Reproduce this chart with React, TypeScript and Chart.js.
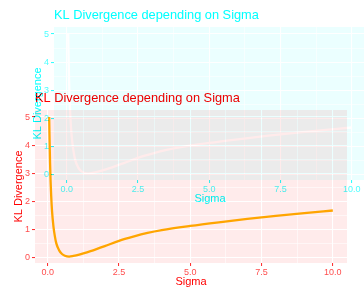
import React, { useEffect, useRef } from 'react';
import { Chart, registerables } from 'chart.js';

Chart.register(...registerables);

// ---- data ----
const sigma = [0.05, 0.06, 0.07, 0.08, 0.1, 0.12, 0.15, 0.2, 0.25, 0.3, 0.4, 0.5, 0.6, 0.75, 0.9, 1.0, 1.25, 1.5, 2.0, 2.5, 3.0, 3.5, 4.0, 5.0, 6.0, 7.0, 8.0, 9.0, 10.0];
const klDivergence = [5.0, 4.4, 3.9, 3.4, 2.7, 2.2, 1.65, 1.1, 0.75, 0.5, 0.25, 0.12, 0.06, 0.03, 0.05, 0.07, 0.14, 0.22, 0.4, 0.59, 0.74, 0.87, 0.97, 1.12, 1.25, 1.37, 1.48, 1.58, 1.67];

const xMajorTicks = [0, 2.5, 5, 7.5, 10];
const xTickLabels = ['0.0', '2.5', '5.0', '7.5', '10.0'];
const xMinorTicks = [1.25, 3.75, 6.25, 8.75];
const yMajorTicks = [0, 1, 2, 3, 4, 5];
const yTickLabels = ['0', '1', '2', '3', '4', '5'];
const yMinorTicks = [0.5, 1.5, 2.5, 3.5, 4.5];

const chartTitle = 'KL Divergence depending on Sigma';
const xTitle = 'Sigma';
const yTitle = 'KL Divergence';

const FONT = "'Liberation Sans', Arial, sans-serif";

type Tint = { panel: string; text: string; tickLabel: string; tickMark: string; line: string };

// main copy keeps green/blue channels, shifted copy keeps red channel (multiplied together)
const TINT_MAIN: Tint = {
  panel: 'rgb(255,235,235)',
  text: 'rgb(255,0,0)',
  tickLabel: 'rgb(255,77,77)',
  tickMark: 'rgb(255,51,51)',
  line: 'rgb(255,165,0)',
};
const TINT_SHIFT: Tint = {
  panel: 'rgb(235,255,255)',
  text: 'rgb(0,255,255)',
  tickLabel: 'rgb(77,255,255)',
  tickMark: 'rgb(51,255,255)',
  line: 'rgb(255,255,255)',
};

const isIn = (v: number, arr: number[]) => arr.some((m) => Math.abs(m - v) < 1e-9);

function makeConfig(t: Tint): any {
  const panelBg = {
    id: 'panelBg',
    beforeDraw(chart: any) {
      const { ctx, chartArea } = chart;
      if (!chartArea) return;
      ctx.save();
      ctx.fillStyle = t.panel;
      ctx.fillRect(chartArea.left, chartArea.top, chartArea.right - chartArea.left, chartArea.bottom - chartArea.top);
      ctx.restore();
    },
  };

  const panelTitle = {
    id: 'panelTitle',
    afterDraw(chart: any) {
      const { ctx, chartArea } = chart;
      if (!chartArea) return;
      ctx.save();
      ctx.fillStyle = t.text;
      ctx.font = `12.8px ${FONT}`;
      ctx.textAlign = 'left';
      ctx.textBaseline = 'middle';
      ctx.fillText(chartTitle, chartArea.left, 15);
      ctx.restore();
    },
  };

  const gridFor = (majors: number[]) => ({
    color: '#ffffff',
    lineWidth: (c: any) => (c.tick && isIn(c.tick.value, majors) ? 1.07 : 0.55),
    tickColor: (c: any) => (c.tick && isIn(c.tick.value, majors) ? t.tickMark : 'rgba(0,0,0,0)'),
    tickLength: 3,
    tickWidth: 1.07,
    drawOnChartArea: true,
    drawTicks: true,
  });

  return {
    type: 'line',
    data: {
      datasets: [
        {
          data: sigma.map((s, i) => ({ x: s, y: klDivergence[i] })),
          borderColor: t.line,
          borderWidth: 2.3,
          pointRadius: 0,
          fill: false,
          cubicInterpolationMode: 'monotone',
        },
      ],
    },
    options: {
      responsive: false,
      animation: false,
      devicePixelRatio: 1,
      layout: { padding: { left: 10, right: 17, top: 27, bottom: 0 } },
      plugins: {
        legend: { display: false },
        tooltip: { enabled: false },
        title: { display: false },
      },
      scales: {
        x: {
          type: 'linear',
          min: -0.4475,
          max: 10.4975,
          afterBuildTicks: (s: any) => {
            s.ticks = [...xMajorTicks, ...xMinorTicks].sort((a, b) => a - b).map((v) => ({ value: v }));
          },
          afterFit: (s: any) => {
            s.height = 26;
          },
          border: { display: false },
          grid: gridFor(xMajorTicks),
          ticks: {
            color: t.tickLabel,
            font: { family: FONT, size: 9 },
            padding: 1,
            autoSkip: false,
            maxRotation: 0,
            callback: (v: number) => {
              const i = xMajorTicks.findIndex((m) => Math.abs(m - v) < 1e-9);
              return i >= 0 ? xTickLabels[i] : '';
            },
          },
          title: {
            display: true,
            text: xTitle,
            color: t.text,
            font: { family: FONT, size: 11 },
            padding: { top: 0, bottom: 0 },
          },
        },
        y: {
          type: 'linear',
          min: -0.2,
          max: 5.25,
          afterBuildTicks: (s: any) => {
            s.ticks = [...yMajorTicks, ...yMinorTicks].sort((a, b) => a - b).map((v) => ({ value: v }));
          },
          afterFit: (s: any) => {
            s.width = 25;
          },
          border: { display: false },
          grid: gridFor(yMajorTicks),
          ticks: {
            color: t.tickLabel,
            font: { family: FONT, size: 9 },
            padding: 2,
            autoSkip: false,
            callback: (v: number) => {
              const i = yMajorTicks.findIndex((m) => Math.abs(m - v) < 1e-9);
              return i >= 0 ? yTickLabels[i] : '';
            },
          },
          title: {
            display: true,
            text: yTitle,
            color: t.text,
            font: { family: FONT, size: 11 },
            padding: { top: 2, bottom: 2 },
          },
        },
      },
    },
    plugins: [panelBg, panelTitle],
  };
}

function ChartCanvas({ tint }: { tint: Tint }) {
  const ref = useRef<HTMLCanvasElement | null>(null);
  useEffect(() => {
    if (!ref.current) return;
    const chart = new Chart(ref.current, makeConfig(tint));
    return () => chart.destroy();
  }, [tint]);
  return <canvas ref={ref} width={364} height={206} style={{ display: 'block', width: 364, height: 206 }} />;
}

export default function App() {
  return (
    <div
      style={{
        position: 'fixed',
        left: 0,
        top: 0,
        width: 364,
        height: 289,
        overflow: 'hidden',
        background: '#ffffff',
        isolation: 'isolate',
        filter: 'blur(0.35px)',
      }}
    >
      <div style={{ position: 'absolute', left: 0, top: 83 }}>
        <ChartCanvas tint={TINT_MAIN} />
      </div>
      <div style={{ position: 'absolute', left: 19, top: 0, mixBlendMode: 'multiply' }}>
        <ChartCanvas tint={TINT_SHIFT} />
      </div>
    </div>
  );
}
